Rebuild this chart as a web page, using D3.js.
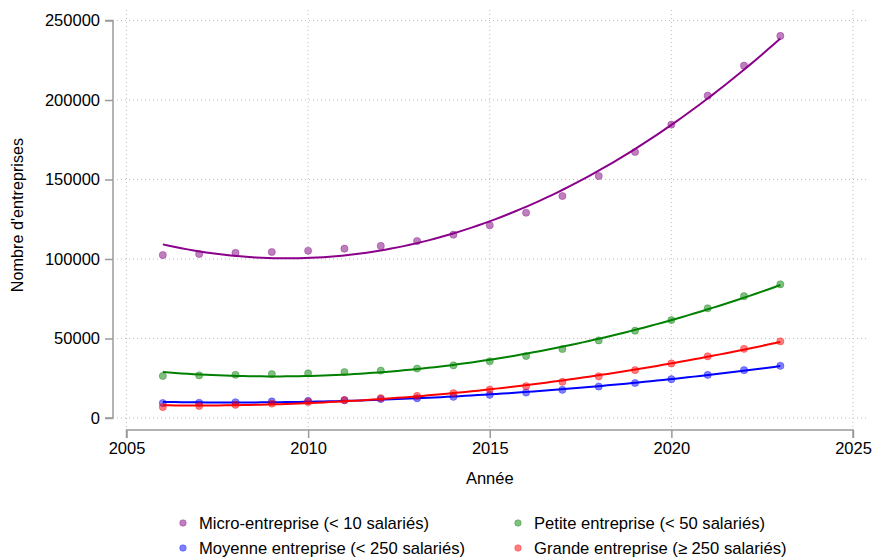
<!DOCTYPE html>
<html><head><meta charset="utf-8">
<script src="https://cdn.jsdelivr.net/npm/d3@7"></script>
<style>
body{margin:0;background:#fff;}
svg{display:block;}
text{font-family:"Liberation Sans",Arial,Helvetica,sans-serif;fill:#000;}
</style></head>
<body><svg id="c" width="873" height="558"></svg>
<script>
const years = [2006,2007,2008,2009,2010,2011,2012,2013,2014,2015,2016,2017,2018,2019,2020,2021,2022,2023];
const micro = [102500,103100,103800,104400,105200,106500,108200,111300,115300,121200,129100,139600,152200,167300,184500,202700,221600,240300];
const petite = [26400,26800,27200,27600,28100,28900,29800,31100,33100,35700,39000,43400,48800,54900,61600,69000,76600,84100];
const moyenne = [9400,9600,9900,10400,10800,11200,11900,12400,13300,14600,16000,17700,19800,22000,24400,27100,30100,32800];
const grande = [6900,7600,8300,9100,10100,11200,12500,13900,15600,17900,20000,22800,26200,30100,34300,38800,43500,48200];
const seriesNames = ["Micro-entreprise (< 10 salariés)","Petite entreprise (< 50 salariés)","Moyenne entreprise (< 250 salariés)","Grande entreprise (≥ 250 salariés)"];
const xTicks = [2005,2010,2015,2020,2025];
const yTicks = [0,50000,100000,150000,200000,250000];

const series = [
  {name:seriesNames[0], values:micro, line:"#8b008b", pt:"#800080"},
  {name:seriesNames[1], values:petite, line:"#008000", pt:"#008000"},
  {name:seriesNames[2], values:moyenne, line:"#0000ff", pt:"#0000ff"},
  {name:seriesNames[3], values:grande, line:"#ff0000", pt:"#ff0000"}
];

const FS = 16.5;
const svg = d3.select("#c");
const x = d3.scaleLinear().domain([2005,2025]).range([126.5,853]);
const y = d3.scaleLinear().domain([0,250000]).range([418,20.5]);

// gridlines
const grid = svg.append("g").attr("stroke","#bdbdbd").attr("stroke-width",1).attr("stroke-dasharray","1,3");
yTicks.forEach(t=>grid.append("line").attr("x1",117).attr("x2",868).attr("y1",y(t)).attr("y2",y(t)));
xTicks.forEach(t=>grid.append("line").attr("x1",x(t)).attr("x2",x(t)).attr("y1",10).attr("y2",428));

// axes
const axisColor="#9a9a9a";
const ya = svg.append("g").attr("transform","translate(113,0)")
  .call(d3.axisLeft(y).tickValues(yTicks).tickSize(8).tickPadding(5).tickFormat(d3.format("d")));
const xa = svg.append("g").attr("transform","translate(0,430)")
  .call(d3.axisBottom(x).tickValues(xTicks).tickSize(8).tickPadding(4).tickFormat(d3.format("d")));
[ya,xa].forEach(a=>{
  a.select(".domain").attr("stroke",axisColor).attr("stroke-width",1.5);
  a.selectAll(".tick line").attr("stroke",axisColor).attr("stroke-width",1.5);
  a.selectAll("text").attr("font-size",FS).attr("font-family","'Liberation Sans',Arial,sans-serif").attr("fill","#000");
});
ya.select(".domain").attr("d",`M-8,${y(0)}H0V${y(250000)}H-8`);
xa.select(".domain").attr("d",`M${x(2005)},8V0H${x(2025)}V8`);

svg.append("text").attr("transform","translate(23,215) rotate(-90)").attr("text-anchor","middle")
  .attr("font-size",16.2).text("Nombre d'entreprises");
svg.append("text").attr("x",x(2015)).attr("y",484).attr("text-anchor","middle")
  .attr("font-size",FS).text("Année");

// quadratic least-squares fit
function qfit(xs, ys){
  const n=xs.length, mx=d3.mean(xs);
  const t=xs.map(v=>v-mx);
  let S=[[0,0,0],[0,0,0],[0,0,0]], b=[0,0,0];
  for(let i=0;i<n;i++){
    const row=[1,t[i],t[i]*t[i]];
    for(let r=0;r<3;r++){ b[r]+=row[r]*ys[i]; for(let c=0;c<3;c++) S[r][c]+=row[r]*row[c]; }
  }
  const A=S.map((r,i)=>r.concat([b[i]]));
  for(let i=0;i<3;i++){
    let p=i; for(let k=i+1;k<3;k++) if(Math.abs(A[k][i])>Math.abs(A[p][i])) p=k;
    [A[i],A[p]]=[A[p],A[i]];
    for(let k=0;k<3;k++){ if(k===i) continue; const f=A[k][i]/A[i][i]; for(let c=i;c<4;c++) A[k][c]-=f*A[i][c]; }
  }
  const co=A.map((r,i)=>r[3]/r[i]);
  return v=>{const u=v-mx; return co[0]+co[1]*u+co[2]*u*u;};
}

const line = d3.line().x(d=>x(d[0])).y(d=>y(d[1])).curve(d3.curveLinear);
const x0=d3.min(years), x1=d3.max(years);
series.forEach(s=>{
  const f=qfit(years,s.values);
  svg.append("g").selectAll("circle").data(years.map((yr,i)=>[yr,s.values[i]])).join("circle")
    .attr("cx",d=>x(d[0])).attr("cy",d=>y(d[1])).attr("r",3.6)
    .attr("fill",s.pt).attr("fill-opacity",0.5)
    .attr("stroke",s.pt).attr("stroke-opacity",0.35).attr("stroke-width",1);
  const pts=d3.range(0,101).map(i=>{const v=x0+(x1-x0)*i/100; return [v,f(v)];});
  svg.append("path").datum(pts).attr("d",line).attr("fill","none")
    .attr("stroke",s.line).attr("stroke-width",2);
});

// legend
const legPos=[[183,523],[518,523],[183,548],[518,548]];
series.forEach((s,i)=>{
  const [lx,ly]=legPos[i];
  svg.append("circle").attr("cx",lx).attr("cy",ly).attr("r",3.3)
    .attr("fill",s.pt).attr("fill-opacity",0.5).attr("stroke",s.pt).attr("stroke-opacity",0.3);
  svg.append("text").attr("x",lx+16).attr("y",ly).attr("dy","0.35em").attr("font-size",16.6).text(s.name);
});
</script></body></html>
